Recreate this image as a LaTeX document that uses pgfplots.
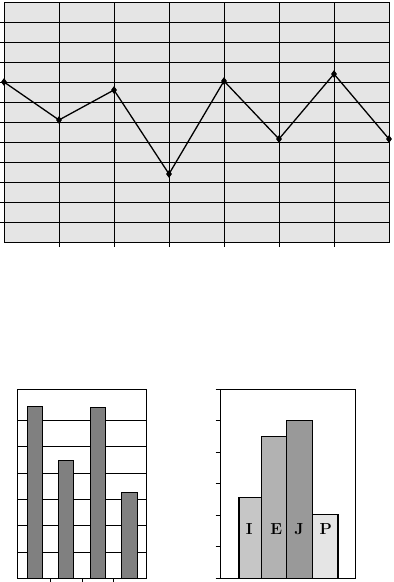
\documentclass[border=0pt]{standalone}
\usepackage{pgfplots}
\pgfplotsset{compat=1.18}
\begin{document}
\begin{tikzpicture}
\useasboundingbox[fill=white] (0pt,0pt) rectangle (394pt,582pt);
% top line chart
\begin{axis}[at={(4pt,340pt)}, anchor=south west, scale only axis,
  width=385pt, height=240pt,
  xmin=0, xmax=7, ymin=0, ymax=12,
  xtick={1,...,6}, ytick={1,...,11},
  xticklabels={}, yticklabels={},
  grid=major, major grid style={black, line width=0.8pt},
  axis background/.style={fill=gray!20},
  xtick pos=bottom, ytick pos=left,
  tick align=outside, major tick length=5pt,
  tick style={black, line width=0.8pt},
  axis line style={line width=0.8pt}, clip=false]
\addplot[black, line width=1.3pt, mark=diamond*, mark size=2.8pt]
  coordinates {(0,8.0)(1,6.1)(2,7.6)(3,3.4)(4,8.05)(5,5.15)(6,8.4)(7,5.15)};
\end{axis}
% bottom-left bar chart
\begin{axis}[at={(17.7pt,3.7pt)}, anchor=south west, scale only axis,
  width=129pt, height=189pt,
  xmin=0.457, xmax=4.55, ymin=0, ymax=7.18,
  xtick={1.5,2.5,3.5}, ytick={1,...,6},
  xticklabels={}, yticklabels={},
  ymajorgrids, major grid style={black, line width=0.8pt},
  xtick pos=bottom, ytick style={draw=none},
  tick align=outside, major tick length=4pt,
  tick style={black, line width=0.8pt},
  axis line style={line width=0.8pt}]
\addplot[ybar, bar width=0.48, fill=gray, draw=black, line width=0.8pt]
  coordinates {(1,6.54)(2,4.49)(3,6.50)(4,3.27)};
\draw[line width=1.6pt] (axis cs:0.457,0) -- (axis cs:0.457,7.18);
\end{axis}
% bottom-right bar chart
\begin{axis}[at={(220.7pt,3.7pt)}, anchor=south west, scale only axis,
  width=134.3pt, height=189pt,
  xmin=0, xmax=134.3, ymin=0, ymax=6,
  ytick={0,...,6}, xtick=\empty,
  xticklabels={}, yticklabels={},
  ytick pos=left, tick align=outside, major tick length=5pt,
  tick style={black, line width=0.8pt},
  axis line style={line width=0.8pt}]
\addplot[ybar, bar width=22.7, fill=gray!45, draw=black, line width=1.2pt] coordinates {(29.65,2.56)};
\addplot[ybar, bar width=24.6, fill=gray!60, draw=black, line width=1.2pt] coordinates {(53.3,4.51)};
\addplot[ybar, bar width=26, fill=gray!80, draw=black, line width=1.2pt] coordinates {(78.6,5.02)};
\addplot[ybar, bar width=25.7, fill=gray!20, draw=black, line width=1.2pt] coordinates {(104.45,2.03)};
\draw[line width=1.4pt] (axis cs:0,0) -- (axis cs:0,6);
\node[font=\fontsize{16}{16}\selectfont\bfseries] at (axis cs:28.6,1.57) {I};
\node[font=\fontsize{16}{16}\selectfont\bfseries] at (axis cs:55.6,1.57) {E};
\node[font=\fontsize{16}{16}\selectfont\bfseries] at (axis cs:78.3,1.57) {J};
\node[font=\fontsize{16}{16}\selectfont\bfseries] at (axis cs:105,1.57) {P};
\end{axis}
\end{tikzpicture}
\end{document}
